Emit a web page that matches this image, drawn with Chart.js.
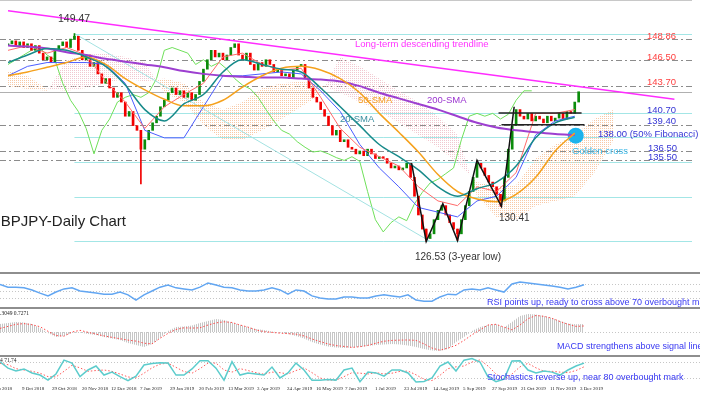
<!DOCTYPE html>
<html><head><meta charset="utf-8">
<script src="https://cdn.jsdelivr.net/npm/chart.js@4.4.1/dist/chart.umd.min.js"></script>
<style>
html,body{margin:0;padding:0;background:#fff;width:712px;height:397px;overflow:hidden}
canvas{position:absolute;left:0}
</style></head><body>
<canvas id="cMain" width="700" height="271" style="top:0px"></canvas>
<canvas id="cRsi" width="700" height="35" style="top:272px"></canvas>
<canvas id="cMacd" width="700" height="48" style="top:307px"></canvas>
<canvas id="cStoch" width="700" height="42" style="top:355px"></canvas>
<script>
// ---------- DATA (bar index = resampled session index) ----------
const firstOpen = 148.20;
const closes = [148.34,148.66,148.14,148.55,147.93,148.34,147.62,148.14,147.31,146.58,
 146.89,146.27,147.62,148.14,148.55,147.93,148.86,149.17,147.62,146.58,
 147.10,145.85,146.27,145.02,143.98,144.50,143.46,142.43,142.94,141.91,
 140.35,140.87,139.31,138.79,136.71,137.75,138.79,139.62,140.35,141.39,
 142.11,142.94,143.46,142.74,143.15,142.43,142.94,142.11,142.74,144.19,
 145.54,146.58,147.62,146.89,147.31,146.58,147.10,147.93,148.34,147.10,
 146.58,147.31,146.06,145.44,146.27,145.85,146.58,146.06,145.23,145.54,
 144.81,145.02,144.50,145.44,145.85,146.06,144.50,143.46,142.43,141.91,
 141.08,140.35,139.31,138.27,138.79,137.54,137.75,136.92,136.71,136.19,
 136.51,135.99,136.71,136.19,135.68,135.88,135.68,135.16,134.64,134.85,
 134.43,134.64,135.16,133.60,131.52,129.45,127.89,126.85,127.37,128.93,
 129.96,130.48,129.45,128.61,127.89,127.37,128.93,130.48,132.04,133.60,
 135.16,134.64,133.81,133.08,132.56,131.73,131.00,133.60,136.71,139.31,
 141.08,140.35,140.04,140.66,139.83,140.35,140.04,139.62,140.35,139.83,
 140.14,140.66,140.04,140.87,140.66,141.91,143.05];
const wickBars = [17, 34, 107, 115, 126];
const wickLow  = [148.86, 132.87, 126.53, 126.62, 130.41];
const wickHigh = [149.47, 138.79, 127.89, 127.89, 131.73];

// moving averages & ichimoku, one value every 5 bars
const sma20 = [146.27,147.10,147.83,147.62,146.89,145.85,143.78,141.08,139.83,141.70,142.74,145.23,146.58,146.06,145.54,145.23,143.46,141.39,139.31,137.23,135.88,134.43,132.56,131.52,132.35,133.08,134.85,137.96,139.62,140.24];
const sma50 = [144.81,145.23,145.75,146.27,146.89,146.06,144.50,143.26,142.22,141.49,141.49,142.11,143.57,144.81,145.64,145.85,145.44,144.50,142.94,140.66,138.58,136.40,133.91,132.04,131.21,130.90,131.73,133.60,136.51,138.48];
const sma200 = [148.14,148.03,147.83,147.41,147.10,146.68,146.37,146.06,145.75,145.33,145.02,144.81,144.71,144.61,144.61,144.50,144.40,144.19,143.67,142.94,142.32,141.70,141.08,140.35,139.62,139.10,138.79,138.58,138.38,138.27];
const tenkan = [147.62,148.14,147.31,147.93,147.10,144.19,141.91,139.00,141.39,142.74,143.98,146.89,147.31,146.06,145.44,145.64,142.43,139.00,136.92,135.88,134.85,132.56,131.00,130.48,132.56,132.04,134.12,140.66,140.66,141.08];
const kijun = [144.81,145.85,146.27,146.27,146.27,146.06,143.98,138.79,137.96,137.96,141.39,144.81,144.81,145.02,145.23,145.02,143.15,140.87,137.23,134.64,132.56,130.28,129.76,129.24,131.00,131.52,133.60,138.27,139.83,140.35];
const senkouA = [145.33,144.81,143.36,143.15,143.46,143.98,144.50,144.19,144.50,143.98,141.91,141.08,141.91,143.46,143.98,144.19,143.78,142.94,141.91,140.87,139.62,138.27,136.92,135.16,133.08,132.56,132.77,135.68,137.23,138.27,140.04,141.08];
const senkouB = [143.67,143.36,143.15,146.58,147.10,147.31,146.89,146.27,142.94,141.91,139.31,137.75,137.75,138.79,140.04,141.39,142.74,146.89,145.85,144.50,143.15,141.91,140.35,138.27,131.52,129.24,128.93,130.48,131.00,131.52,134.12,137.75];
// chikou span, one value every 2 bars
const chikou = [146.06,146.58,147.10,147.62,147.93,147.10,146.58,143.98,142.11,140.87,
 139.00,136.19,138.79,140.04,141.91,142.43,142.74,142.43,142.94,144.50,
 147.62,147.93,147.62,147.31,146.06,146.58,145.85,146.27,145.54,144.50,
 143.78,143.36,142.43,141.08,139.83,138.79,138.38,137.54,136.92,136.40,
 136.51,136.19,135.78,135.47,135.88,135.36,132.04,128.93,127.58,128.61,
 129.24,128.82,130.69,131.94,132.98,133.39,134.01,134.64,137.75,140.35,
 140.66,140.35,140.66,140.04,140.56,142.11,143.15,143.15];

// oscillators, one value every 2 bars
const rsi = [69,61,61,59,53,44,36,47,56,59,
 50,47,44,41,41,47,39,24,39,50,
 61,67,59,56,53,61,73,67,61,59,
 53,50,50,53,59,53,41,53,50,36,
 30,27,27,33,33,30,30,36,39,36,
 33,39,24,21,21,33,41,39,53,56,
 53,59,53,47,70,76,73,70,67,64,
 61,56,61,68];
const macd = [0.57,0.64,0.71,0.68,0.57,0.29,-0.07,-0.36,-0.29,-0.07,
 -0.04,-0.14,-0.21,-0.36,-0.46,-0.57,-0.79,-0.93,-1.07,-0.86,
 -0.43,0.07,0.36,0.39,0.46,0.64,0.79,0.93,0.86,0.68,
 0.5,0.36,0.21,0.14,0.04,-0.04,-0.14,-0.29,-0.46,-0.71,
 -0.89,-1.04,-1.11,-1.14,-1.11,-1.07,-1.0,-0.93,-0.89,-0.86,
 -0.89,-0.96,-1.07,-1.21,-1.32,-1.36,-1.21,-0.71,-0.36,0.07,
 0.36,0.5,0.57,0.32,0.71,1.14,1.29,1.25,1.14,1.0,
 0.79,0.61,0.55,0.57];
const macdSignal = [0.26,0.4,0.55,0.6,0.52,0.38,0.05,-0.25,-0.3,0.0,
 0.12,-0.02,-0.15,-0.28,-0.38,-0.48,-0.58,-0.65,-0.8,-0.85,
 -0.45,-0.1,0.18,0.3,0.28,0.3,0.5,0.65,0.73,0.68,
 0.5,0.35,0.15,0.02,-0.03,-0.08,-0.12,-0.15,-0.28,-0.5,
 -0.68,-0.85,-0.97,-1.03,-1.1,-1.05,-0.95,-0.8,-0.66,-0.6,
 -0.58,-0.57,-0.6,-0.85,-1.15,-1.3,-1.15,-0.95,-0.6,-0.2,
 0.15,0.5,0.55,0.35,0.15,0.5,0.95,1.18,1.12,0.98,
 0.75,0.55,0.4,0.43];
const stochK = [81,57,46,54,39,31,12,35,87,76,
 25,50,65,31,42,25,10,27,69,74,
 77,76,31,31,54,85,85,57,12,81,
 31,39,35,31,61,20,39,76,50,11,
 11,14,12,50,57,6,42,39,27,50,
 50,39,5,7,20,65,80,46,87,93,
 80,24,6,16,84,85,50,39,46,42,
 31,50,65,76];
const stochD = [75,70,55,50,45,38,25,24,45,68,
 58,45,48,50,45,35,24,20,38,58,
 72,76,60,44,38,55,76,76,50,42,
 55,48,40,34,42,40,35,48,58,40,
 20,12,12,25,40,38,35,40,35,38,
 45,46,32,15,10,30,55,62,65,80,
 88,65,35,15,35,62,75,58,45,45,
 42,40,48,62];

// drawn objects
const keyLevels = [148.86, 146.50, 143.70, 139.40, 136.50, 135.50];
const fibLevels = [149.47, 140.70, 138.00, 135.29, 131.44, 126.53];
const fibStartBar = 17;
const trendBars = [0, 170.5], trendPrices = [151.98, 142.22];
const fibDiagBars = [17, 108], fibDiagPrices = [149.47, 126.53];
const wBars = [103.25, 107, 111.25, 115, 120, 126.25, 129.5];
const wPrices = [135.16, 126.53, 130.69, 126.62, 135.47, 130.41, 141.39];
const boxBars = [[125.5, 146.75], [126.25, 147.5]];
const boxLevels = [140.70, 139.40];
const crossBar = 145.25, crossPrice = 138.2;
const dateTickBars = [-3.5, 5.25, 12.75, 20.25, 27.5, 34.75, 42.25, 49.5, 56.75, 64, 71.5, 78.75, 86, 93.5, 100.75, 108, 115.5, 122.75, 130, 137.25, 144.75];
const dateTickLabels = ['18 Sep 2018','9 Oct 2018','29 Oct 2018','20 Nov 2018','12 Dec 2018','7 Jan 2019','29 Jan 2019','20 Feb 2019','13 Mar 2019','3 Apr 2019','24 Apr 2019','16 May 2019','7 Jun 2019','1 Jul 2019','23 Jul 2019','14 Aug 2019','5 Sep 2019','27 Sep 2019','21 Oct 2019','11 Nov 2019','3 Dec 2019'];

// ---------- helpers ----------
const X_MAX = 175;
const SANS = '"Liberation Sans", Arial, sans-serif';
const pts = (vals, step) => vals.map((v, k) => ({x: k * step, y: v}));
const pairs = (xs, ys) => xs.map((b, k) => ({x: b, y: ys[k]}));
function pat(w, h, color) {
  const c = document.createElement('canvas'); c.width = w; c.height = h;
  const g = c.getContext('2d'); g.fillStyle = color; g.fillRect(0, 0, 1, 1);
  return g.createPattern(c, 'repeat');
}
const orangeDots = pat(2, 2, '#f8c9a6');
const pinkDots = pat(2, 2, '#f1c7cf');
const macdStripes = pat(2, 1, '#c6c6c6');
const xScale = () => ({type: 'linear', min: 0, max: X_MAX, display: false, offset: false});
const baseOpts = (ymin, ymax, pad) => ({
  responsive: false, animation: false, devicePixelRatio: 1,
  layout: {padding: pad || 0},
  plugins: {legend: {display: false}, tooltip: {enabled: false}},
  scales: {x: xScale(), y: {min: ymin, max: ymax, display: false}}
});
function line(data, color, width, order, extra) {
  return Object.assign({type: 'line', data, borderColor: color, borderWidth: width, pointRadius: 0, fill: false, tension: 0, order}, extra || {});
}
function txt(ctx, t, x, y, color, size, font) {
  ctx.font = size + 'px ' + (font || SANS);
  ctx.fillStyle = color; ctx.textAlign = 'left'; ctx.textBaseline = 'middle';
  ctx.fillText(t, x, y);
}
function hline(ctx, y, x0, x1) {
  const py = Math.round(y) + 0.5;
  ctx.beginPath(); ctx.moveTo(x0, py); ctx.lineTo(x1, py); ctx.stroke();
}
function separator(ctx) { ctx.fillStyle = '#8e8e8e'; ctx.fillRect(0, 0, 700, 2); }

// ---------- MAIN PRICE PANEL ----------
const candleData = closes.map((c, i) => ({x: i, y: [i === 0 ? firstOpen : closes[i - 1], c]}));
const isUp = i => closes[i] >= (i === 0 ? firstOpen : closes[i - 1]);
const UP = '#0b8c0b', DOWN = '#f20000';
const wickData = wickBars.map((b, k) => ({x: b, y: [wickLow[k], wickHigh[k]]}));

const mainDecor = {
  id: 'mainDecor',
  beforeDatasetsDraw(chart) {
    const {ctx, chartArea: a, scales: {x, y}} = chart;
    ctx.save();
    ctx.lineWidth = 1;
    ctx.strokeStyle = '#c8c8c8'; hline(ctx, 0, 0, a.right);
    ctx.strokeStyle = '#a3e6e6';
    fibLevels.forEach(v => hline(ctx, y.getPixelForValue(v), x.getPixelForValue(fibStartBar), a.right));
    ctx.strokeStyle = '#8c8c8c'; ctx.setLineDash([6, 3, 2, 3]);
    keyLevels.forEach(v => hline(ctx, y.getPixelForValue(v), 0, a.right));
    ctx.setLineDash([]);
    ctx.strokeStyle = '#b0b0b0';
    hline(ctx, y.getPixelForValue(closes[closes.length - 1]), 0, a.right);
    ctx.restore();
  },
  afterDatasetsDraw(chart) {
    const {ctx, scales: {y}} = chart;
    ctx.save();
    txt(ctx, '149.47', 58, 19, '#333', 10.5);
    txt(ctx, 'Long-term descending trendline', 355, 44, '#ff33ff', 9.5);
    txt(ctx, '50-SMA', 358, 100, '#f5a020', 9.5);
    txt(ctx, '200-SMA', 427, 100, '#9b35d0', 9.5);
    txt(ctx, '20-SMA', 340, 119, '#3b8fa0', 9.5);
    [['148.86', 148.86], ['146.50', 146.50], ['143.70', 143.70]].forEach(([t, v]) =>
      txt(ctx, t, 647, y.getPixelForValue(v) - 3, '#ff4040', 9.5));
    [['140.70', 140.70, 647], ['139.40', 139.40, 647], ['138.00 (50% Fibonacci)', 138.00, 598], ['136.50', 136.50, 648], ['135.50', 135.50, 648]].forEach(([t, v, px]) =>
      txt(ctx, t, px, y.getPixelForValue(v) - 3, '#3535d5', 9.5));
    txt(ctx, 'Golden cross', 572, 151, '#3cb8e6', 9.5);
    txt(ctx, '130.41', 499, 218, '#333', 10);
    txt(ctx, '126.53 (3-year low)', 415, 257, '#333', 10);
    txt(ctx, 'GBPJPY-Daily Chart', -11, 222, '#222', 15);
    ctx.restore();
  }
};

new Chart(document.getElementById('cMain'), {
  type: 'bar',
  data: {datasets: [
    line(pts(senkouA, 5), 'rgba(0,0,0,0)', 0, 30),
    line(pts(senkouB, 5), 'rgba(0,0,0,0)', 0, 29, {fill: {target: '-1', above: pinkDots, below: orangeDots}}),
    line(pts(chikou, 2), '#6fe05a', 1, 25),
    line(pairs(fibDiagBars, fibDiagPrices), '#a3e2e2', 1, 24),
    {type: 'bar', data: wickData, backgroundColor: c => isUp(c.raw.x) ? UP : DOWN, barThickness: 1, grouped: false, order: 21},
    {type: 'bar', data: candleData, backgroundColor: c => isUp(c.raw.x) ? UP : DOWN, barThickness: 2, minBarLength: 1, grouped: false, borderWidth: 0, order: 20},
    line([{x: crossBar, y: crossPrice}], '#1bb3ec', 0, 18, {showLine: false, pointRadius: 8, pointBackgroundColor: '#1bb3ec', pointBorderWidth: 0}),
    line(pts(kijun, 5), '#4b5cff', 1, 15),
    line(pts(tenkan, 5), '#ff6a6a', 1, 14),
    line(pts(sma200, 5), '#9d3fd0', 2, 12, {cubicInterpolationMode: 'monotone'}),
    line(pts(sma50, 5), '#f5a11c', 1.5, 11, {cubicInterpolationMode: 'monotone'}),
    line(pts(sma20, 5), '#178a8a', 1.5, 10, {cubicInterpolationMode: 'monotone'}),
    line(pairs(trendBars, trendPrices), '#ff2cff', 1.5, 5),
    line(pairs(wBars, wPrices), '#111', 1.5, 3),
    line(pairs(boxBars[0], [boxLevels[0], boxLevels[0]]), '#222', 1.5, 2),
    line(pairs(boxBars[1], [boxLevels[1], boxLevels[1]]), '#222', 1.5, 2)
  ]},
  options: baseOpts(124.15, 152.29),
  plugins: [mainDecor]
});

// ---------- RSI ----------
new Chart(document.getElementById('cRsi'), {
  type: 'line',
  data: {datasets: [line(pts(rsi, 2), '#62a6f2', 1.5, 1)]},
  options: baseOpts(4.29, 104.29),
  plugins: [{
    id: 'rsiDecor',
    beforeDatasetsDraw(chart) {
      const {ctx, chartArea: a, scales: {y}} = chart;
      ctx.save(); separator(ctx);
      ctx.strokeStyle = '#c6c6c6'; ctx.lineWidth = 1; ctx.setLineDash([1, 2]);
      [70, 50, 30].forEach(v => hline(ctx, y.getPixelForValue(v), 0, a.right));
      ctx.restore();
    },
    afterDatasetsDraw(chart) {
      const ctx = chart.ctx; ctx.save();
      txt(ctx, 'RSI points up, ready to cross above 70 overbought mark', 487, 31, '#3838f2', 9);
      ctx.restore();
    }
  }]
});

// ---------- MACD ----------
new Chart(document.getElementById('cMacd'), {
  type: 'line',
  data: {datasets: [
    line(pts(macdSignal, 2), '#ff4a4a', 1, 1, {borderDash: [1.5, 2]}),
    line(pts(macd, 2), 'rgba(0,0,0,0)', 0, 2, {fill: {target: 'origin', above: macdStripes, below: macdStripes}})
  ]},
  options: baseOpts(-1.643, 1.786),
  plugins: [{
    id: 'macdDecor',
    beforeDatasetsDraw(chart) {
      const {ctx, chartArea: a, scales: {y}} = chart;
      ctx.save(); separator(ctx);
      ctx.strokeStyle = '#c6c6c6'; ctx.lineWidth = 1; ctx.setLineDash([1, 2]);
      hline(ctx, y.getPixelForValue(0), 0, a.right);
      ctx.restore();
    },
    afterDatasetsDraw(chart) {
      const ctx = chart.ctx; ctx.save();
      txt(ctx, '.3049 0.7271', 0, 7, '#222', 5.5, '"Liberation Serif", serif');
      txt(ctx, 'MACD strengthens above signal line', 557, 40, '#3838f2', 9);
      ctx.restore();
    }
  }]
});

// ---------- STOCHASTICS ----------
new Chart(document.getElementById('cStoch'), {
  type: 'line',
  data: {datasets: [
    line(pts(stochD, 2), '#ff5a5a', 1, 2, {borderDash: [1.5, 2]}),
    line(pts(stochK, 2), '#5ccccc', 1.5, 1)
  ]},
  options: baseOpts(1.1, 106.4, {bottom: 14}),
  plugins: [{
    id: 'stochDecor',
    beforeDatasetsDraw(chart) {
      const {ctx, chartArea: a, scales: {y}} = chart;
      ctx.save(); separator(ctx);
      ctx.strokeStyle = '#c6c6c6'; ctx.lineWidth = 1; ctx.setLineDash([1, 2]);
      [80, 20].forEach(v => hline(ctx, y.getPixelForValue(v), 0, a.right));
      ctx.restore();
    },
    afterDatasetsDraw(chart) {
      const {ctx, scales: {x}} = chart; ctx.save();
      txt(ctx, '4 71.74', 0, 6, '#222', 5.5, '"Liberation Serif", serif');
      txt(ctx, 'Stochastics reverse up, near 80 overbought mark', 487, 23, '#3838f2', 9);
      dateTickBars.forEach((b, k) => txt(ctx, dateTickLabels[k], x.getPixelForValue(b) + 1, 34, '#222', 5, '"Liberation Serif", serif'));
      ctx.restore();
    }
  }]
});
</script>
</body></html>
